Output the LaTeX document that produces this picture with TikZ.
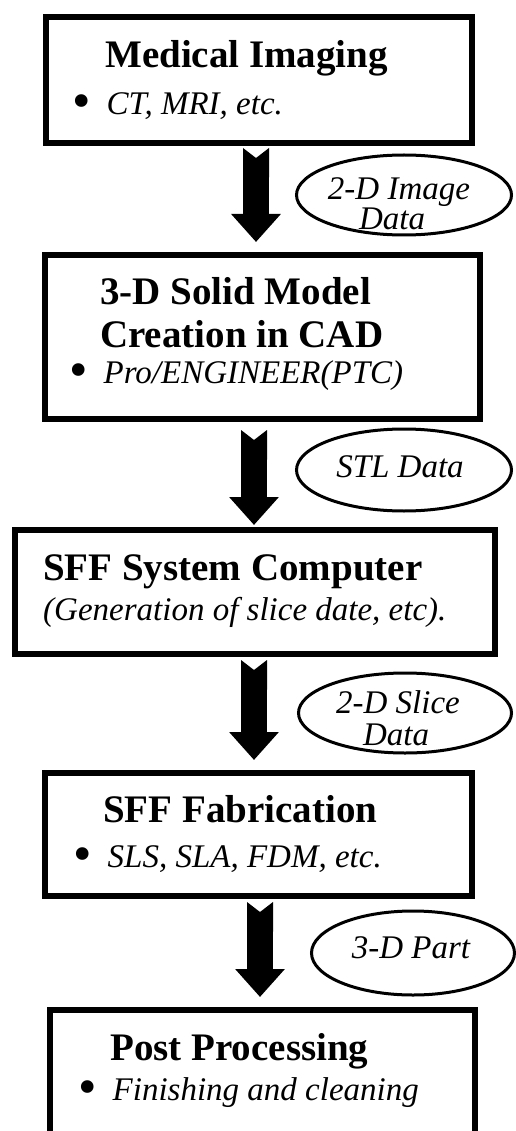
\documentclass[tikz,border=0pt]{standalone}
\usepackage{fontspec}
\setmainfont{Liberation Serif}
\usetikzlibrary{arrows.meta,shapes.geometric}
\tikzset{
  box/.style  = {draw, rectangle, line width=6pt, inner sep=0pt},
  tag/.style  = {draw, ellipse, line width=3pt, inner sep=0pt},
  flow/.style = {line width=26pt,
                 {Triangle Cap[reversed,length=10pt]}-{Triangle[width=48pt,length=28pt]}},
  head/.style = {anchor=base west, inner sep=0pt,
                 font=\fontsize{39}{45}\selectfont\bfseries},
  item/.style = {anchor=base west, inner sep=0pt,
                 font=\fontsize{33}{39}\selectfont},
  note/.style = {anchor=base, inner sep=0pt,
                 font=\fontsize{33}{38}\selectfont\itshape}
}
\newcommand{\bul}{\raisebox{-4pt}{\scalebox{1.6}{\textbullet}}\hspace{16pt}}

\begin{document}
\begin{tikzpicture}[x=1pt, y=-1pt]
	\useasboundingbox (0,0) rectangle (516,1131);
	\fill[white] (0,0) rectangle (516,1131);

	% Boxes
	\node[box, minimum width=426, minimum height=126] (b1) at (259,80) {};
	\node[box, minimum width=435, minimum height=164] (b2) at (262.5,337) {};
	\node[box, minimum width=480, minimum height=124] (b3) at (255,592) {};
	\node[box, minimum width=427, minimum height=123] (b4) at (258.5,834.5) {};
	\node[box, minimum width=425, minimum height=137] (b5) at (262.5,1078.5) {};

	% Box texts
	\node[head] (t1)  at (105,68)  {Medical Imaging};
	\node[item] (s1)  at (72,115)  {\bul\textit{CT, MRI, etc.}};
	\node[head] (t2a) at (100,305) {3-D Solid Model};
	\node[head] (t2b) at (100,347) {Creation in CAD};
	\node[item] (s2)  at (69,383)  {\bul\textit{Pro/ENGINEER(PTC)}};
	\node[head] (t3)  at (43,580)  {SFF System Computer};
	\node[item] (s3)  at (43,620)  {\textit{(Generation of slice date, etc).}};
	\node[head] (t4)  at (103,822) {SFF Fabrication};
	\node[item] (s4)  at (73,867)  {\bul\textit{SLS, SLA, FDM, etc.}};
	\node[head] (t5)  at (110,1060) {Post Processing};
	\node[item] (s5)  at (78,1100) {\bul\textit{Finishing and cleaning}};

	% Arrows
	\draw[flow, shorten <=2pt, shorten >=10pt]
		([xshift=-3pt]b1.south) -- ([xshift=-3pt]b1.south |- b2.north);
	\draw[flow, shorten <=8pt, shorten >=2pt]
		([xshift=-8.5pt]b2.south) -- ([xshift=-8.5pt]b2.south |- b3.north);
	\draw[flow, shorten <=3pt, shorten >=10pt]
		([xshift=-1pt]b3.south) -- ([xshift=-1pt]b3.south |- b4.north);
	\draw[flow, shorten <=3pt, shorten >=10pt]
		([xshift=1.5pt]b4.south) -- ([xshift=1.5pt]b4.south |- b5.north);

	% Data tags
	\node[tag, minimum width=215, minimum height=80] (e1) at (404,195) {};
	\node[tag, minimum width=215, minimum height=82] (e2) at (404,470) {};
	\node[tag, minimum width=213, minimum height=80] (e3) at (405,713) {};
	\node[tag, minimum width=203, minimum height=84] (e4) at (413,953) {};

	\node[note] (l1a) at (399,200) {2-D Image};
	\node[note] (l1b) at (392,230) {Data};
	\node[note] (l2)  at (400,477) {STL Data};
	\node[note] (l3a) at (398,713) {2-D Slice};
	\node[note] (l3b) at (396,745) {Data};
	\node[note] (l4)  at (411,958) {3-D Part};
\end{tikzpicture}
\end{document}
